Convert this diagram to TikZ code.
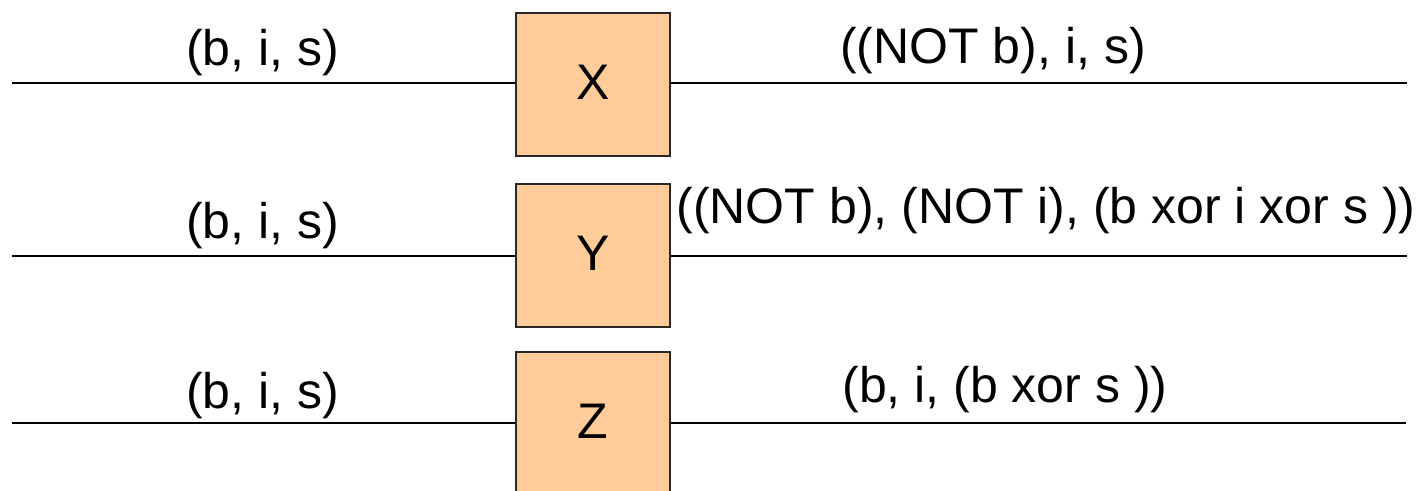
\documentclass[tikz,border=0pt]{standalone}
\usepackage{fontspec}
\setmainfont{Liberation Sans}
\definecolor{peach}{RGB}{255,204,153}
\definecolor{edge}{RGB}{40,40,40}
\begin{document}
\begin{tikzpicture}[x=1pt,y=-1pt,
  gate/.style={draw=edge,line width=1.6pt,fill=peach,minimum width=154pt,minimum height=143pt,inner sep=0pt,text height=36pt,text depth=0pt,font=\fontsize{50}{60}\selectfont},
  wire/.style={line width=2.2pt,black},
  lbl/.style={anchor=base,inner sep=0pt,font=\fontsize{50}{60}\selectfont}]
\useasboundingbox (0,0) rectangle (1423,490);
\clip (0,0) rectangle (1423,490);
% boxes
\node[gate] (X) at (593,84.5) {\raisebox{3.5pt}{X}};
\node[gate] (Y) at (593,255.5) {\raisebox{3.5pt}{Y}};
\node[gate] (Z) at (593,423.5) {\raisebox{3.5pt}{Z}};
% wire ends
\coordinate (xl) at (12,83);
\coordinate (xr) at (1407,83);
\coordinate (yl) at (12,256);
\coordinate (yr) at (1407,256);
\coordinate (zl) at (12,423);
\coordinate (zr) at (1406,423);
\draw[wire] (xl) -- (xl -| X.west);
\draw[wire] (xr -| X.east) -- (xr);
\draw[wire] (yl) -- (yl -| Y.west);
\draw[wire] (yr -| Y.east) -- (yr);
\draw[wire] (zl) -- (zl -| Z.west);
\draw[wire] (zr -| Z.east) -- (zr);
% labels
\node[lbl] (lx) at (262.5,65) {(b, i, s)};
\node[lbl] (ly) at (262.5,238) {(b, i, s)};
\node[lbl] (lz) at (262.5,408) {(b, i, s)};
\node[lbl] (rx) at (993,63) {((NOT b), i, s)};
\node[lbl] (ry) at (1046,223) {((NOT b), (NOT i), (b xor i xor s ))};
\node[lbl] (rz) at (1005,402) {(b, i, (b xor s ))};
\end{tikzpicture}
\end{document}
